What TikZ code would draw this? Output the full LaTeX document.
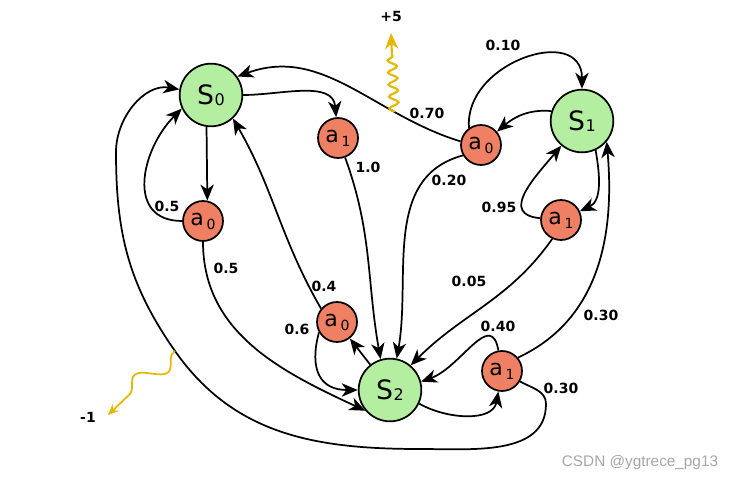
\documentclass[tikz,border=0pt]{standalone}
\usepackage{fontspec}
\setmainfont{DejaVu Sans}
\newfontfamily\wmfont{Liberation Sans}
\usepackage{tikz}
\usetikzlibrary{arrows.meta}
\usetikzlibrary{decorations.pathmorphing}

\definecolor{stategreen}{RGB}{180,238,160}
\definecolor{actred}{RGB}{240,128,100}
\definecolor{rewardyellow}{RGB}{228,184,0}

\newcommand{\stname}[1]{{\fontsize{20}{20}\selectfont S\kern0.5pt\raisebox{-1pt}{\fontsize{12}{12}\selectfont #1}}}
\newcommand{\actname}[1]{{\fontsize{16.5}{16.5}\selectfont a\kern2pt\raisebox{-3pt}{\fontsize{10.5}{10.5}\selectfont #1}}}

\begin{document}
\begin{tikzpicture}[x=0.75pt,y=0.75pt,
    state/.style={circle, draw, line width=1.3pt, fill=stategreen, minimum size=47pt, inner sep=0pt},
    act/.style={circle, draw, line width=1.3pt, fill=actred, minimum size=30pt, inner sep=0pt},
    arr/.style={-{Stealth[length=12pt,width=10pt,inset=3.5pt]}, line width=1.3pt},
    lbl/.style={font=\fontsize{10.5}{10.5}\selectfont\bfseries, inner sep=0pt},
    reward/.style={rewardyellow, line width=1.6pt, decorate}]
    \useasboundingbox (0,0) rectangle (741,482);

    % states and actions
    \node[state] (s0) at (211,387) {\stname{0}};
    \node[state] (s1) at (582,361) {\stname{1}};
    \node[state] (s2) at (390,92) {\stname{2}};
    \node[act] (a1s0) at (338,344) {\actname{1}};
    \node[act] (a0s0) at (203,261) {\actname{0}};
    \node[act] (a0s1) at (481,337) {\actname{0}};
    \node[act] (a1s1) at (561,262) {\actname{1}};
    \node[act] (a0s2) at (337,160) {\actname{0}};
    \node[act] (a1s2) at (502,111) {\actname{1}};

    % state -> action
    \draw[arr] (s0) to[out=0,in=95] (a1s0);
    \draw[arr] (s0.-98) -- (a0s0.78);
    \draw[arr] (s1.162) to[out=175,in=40] (a0s1);
    \draw[arr] (s1.-65) to[out=-80,in=25] (a1s1);
    \draw[arr] (s2) -- (a0s2);
    \draw[arr] (s2.-25) to[out=-30,in=-100] (a1s2);

    % action -> state
    \draw[arr] (a1s0.-70) to[out=-70,in=100] (s2.107);
    \draw[arr] (a0s0.180) to[out=180,in=-135,looseness=1.3] (s0.-155);
    \draw[arr] (a0s0.-90) to[out=-90,in=155] (s2.-140);
    \draw[arr] (a0s1.170) to[out=163,in=20] coordinate[pos=0.28] (win) (s0.35);
    \draw[arr] (a0s1.125) to[out=95,in=90,looseness=1.4] (s1);
    \draw[arr] (a0s1.-150) to[out=-165,in=80] (s2.78);
    \draw[arr] (a1s1.175) to[out=175,in=-130,looseness=1.4] (s1);
    \draw[arr] (a1s1.-115) to[out=-125,in=45] (s2.50);
    \draw[arr] (a0s2.140) to[out=120,in=-60] (s0.-47);
    \draw[arr] (a0s2.-150) to[out=-105,in=180,looseness=1.4] (s2);
    \draw[arr] (a1s2.100) to[out=100,in=20,looseness=1.3] (s2.15);
    \draw[arr] (a1s2.40) to[out=25,in=-85] (s1.-40);
    \draw[arr] (a1s2.-30) to[out=-30,in=90] (546,78) to[out=-90,in=0] (420,33)
        to[out=180,in=-55] (175,131) coordinate (lose)
        to[out=125,in=-90] (116,330) to[out=90,in=170] (s0);

    % rewards
    \coordinate (winend) at (391,449);
    \coordinate (loseend) at (108,67);
    \draw[reward, decoration={snake,amplitude=3.5pt,segment length=9pt,post length=14pt},
        -{Stealth[length=12pt,width=10pt]}] (win) -- (winend);
    \draw[reward, line width=1.3pt, decoration={snake,amplitude=8pt,segment length=40pt,pre length=2pt,post length=4pt},
        -{Stealth[length=8pt,width=7pt]}] (lose) -- (loseend);

    \node[lbl] (plus) at (391,465) {+5};
    \node[lbl] (minus) at (88,65) {-1};

    % probabilities
    \node[lbl] (p070) at (427,369) {0.70};
    \node[lbl] (p010) at (503,437) {0.10};
    \node[lbl] (p10) at (368,315) {1.0};
    \node[lbl] (p020) at (449,302) {0.20};
    \node[lbl] (p095) at (499,275) {0.95};
    \node[lbl] (p05a) at (167,276) {0.5};
    \node[lbl] (p05b) at (226,214) {0.5};
    \node[lbl] (p005) at (469,201) {0.05};
    \node[lbl] (p04) at (324,196) {0.4};
    \node[lbl] (p06) at (297,153) {0.6};
    \node[lbl] (p040) at (498,156) {0.40};
    \node[lbl] (p030a) at (601,167) {0.30};
    \node[lbl] (p030b) at (561,94) {0.30};

    \node[text=black!35, font=\wmfont\fontsize{11.5}{11.5}\selectfont, inner sep=0pt] (wm) at (640,19) {CSDN @ygtrece\_pg13};
\end{tikzpicture}
\end{document}
